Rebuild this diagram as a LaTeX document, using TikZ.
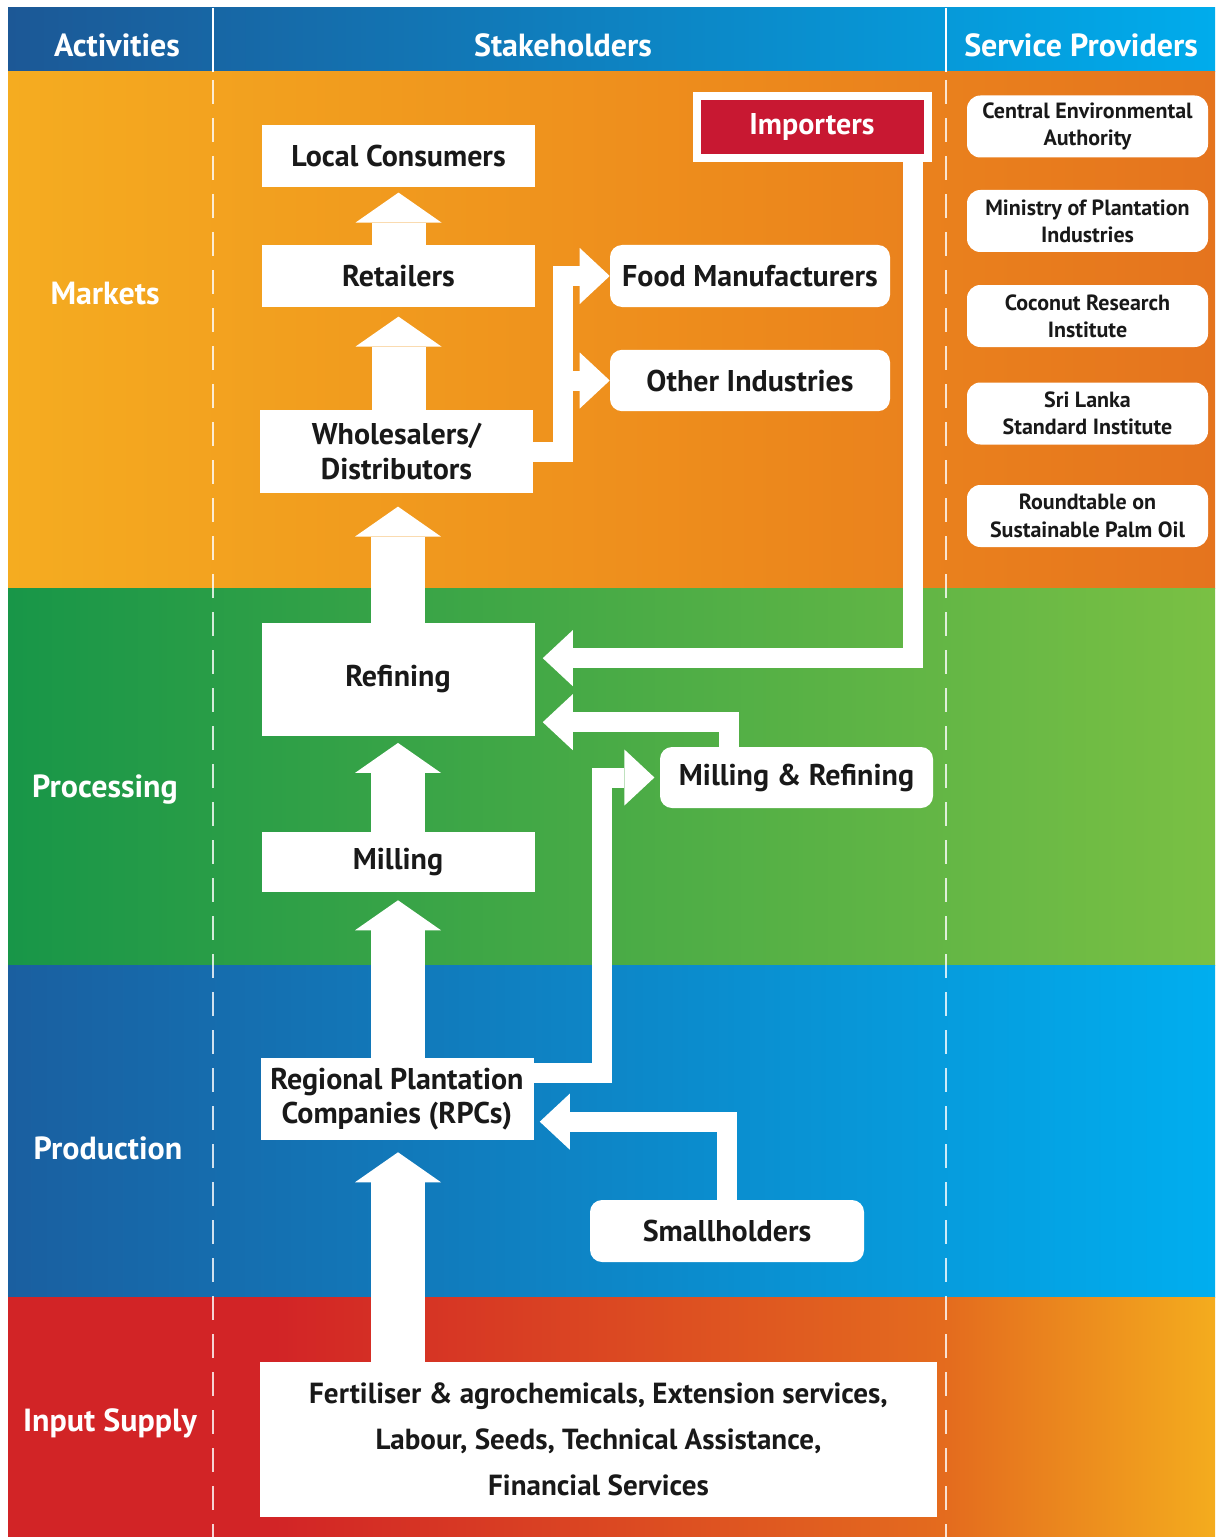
\documentclass[tikz,border=0pt]{standalone}
\usepackage{fontspec}
\setmainfont{PT Sans}
\usetikzlibrary{arrows.meta,calc}

\definecolor{txt}{RGB}{25,25,25}
\definecolor{hdL}{RGB}{28,88,150}
\definecolor{hdR}{RGB}{0,172,236}
\definecolor{mkL}{RGB}{245,172,32}
\definecolor{mkM}{RGB}{237,138,28}
\definecolor{mkR}{RGB}{229,116,30}
\definecolor{prL}{RGB}{24,150,72}
\definecolor{prR}{RGB}{122,192,68}
\definecolor{pdL}{RGB}{26,95,160}
\definecolor{pdR}{RGB}{0,174,239}
\definecolor{inL}{RGB}{210,36,38}
\definecolor{inM}{RGB}{228,108,30}
\definecolor{inR}{RGB}{244,172,30}
\definecolor{impred}{RGB}{200,24,50}

\pgfdeclarehorizontalshading{hdsh}{100bp}{color(0bp)=(hdL); color(25bp)=(hdL); color(75bp)=(hdR); color(100bp)=(hdR)}
\pgfdeclarehorizontalshading{mksh}{100bp}{color(0bp)=(mkL); color(25bp)=(mkL); color(55bp)=(mkM); color(75bp)=(mkR); color(100bp)=(mkR)}
\pgfdeclarehorizontalshading{prsh}{100bp}{color(0bp)=(prL); color(25bp)=(prL); color(75bp)=(prR); color(100bp)=(prR)}
\pgfdeclarehorizontalshading{pdsh}{100bp}{color(0bp)=(pdL); color(25bp)=(pdL); color(75bp)=(pdR); color(100bp)=(pdR)}
\pgfdeclarehorizontalshading{insh}{100bp}{color(0bp)=(inL); color(25bp)=(inL); color(36bp)=(inL); color(64bp)=(inM); color(75bp)=(inR); color(100bp)=(inR)}

\tikzset{
  sqbox/.style={fill=white, text=txt, align=center, inner sep=0pt,
    font=\fontsize{22.5}{26}\selectfont\bfseries, minimum width=204.75pt},
  rdbox/.style={sqbox, rounded corners=9pt},
  spbox/.style={fill=white, text=txt, align=center, inner sep=0pt, rounded corners=10pt,
    font=\fontsize{16.5}{20.5}\selectfont\bfseries, minimum width=180.75pt, minimum height=46.5pt},
  hdtext/.style={text=white, font=\fontsize{24}{28}\selectfont\bfseries},
  rowtext/.style={text=white, font=\fontsize{24}{28}\selectfont\bfseries},
  divider/.style={draw=white, draw opacity=0.8, line width=1.5pt, dash pattern=on 18pt off 10.5pt},
  vup/.style={draw=white, line width=40.5pt,
    -{Triangle[width=64.5pt,length=22.5pt,line width=0pt]}},
  hbar/.style={draw=white, line width=15pt, line join=miter,
    -{Triangle[width=42pt,length=22.5pt,line width=0pt]}}
}

\begin{document}
\begin{tikzpicture}[x=0.75pt,y=-0.75pt]
\useasboundingbox (0,0) rectangle (1215,1537);
\fill[white] (0,0) rectangle (1215,1537);

% bands
\shade[shading=hdsh] (8,8) rectangle (1215,72);
\shade[shading=mksh] (8,72) rectangle (1215,588);
\shade[shading=prsh] (8,588) rectangle (1215,965);
\shade[shading=pdsh] (8,965) rectangle (1215,1297);
\shade[shading=insh] (8,1297) rectangle (1215,1537);

% dividers
\draw[white, line width=1pt] (213,8) -- (213,72);
\draw[white, line width=1pt] (946,8) -- (946,72);
\draw[divider] (213,80) -- (213,1537);
\draw[divider] (946,80) -- (946,1537);

% headers
\node[hdtext] (hact) at (117,45) {Activities};
\node[hdtext] (hsta) at (563,45) {Stakeholders};
\node[hdtext] (hser) at (1081,45) {Service Providers};

% row labels
\node[rowtext] (rmk) at (105,294) {Markets};
\node[rowtext] (rpr) at (105,790) {Processing};
\node[rowtext] (rpd) at (108,1148) {Production};
\node[rowtext] (rin) at (110,1423) {Input Supply};

% stakeholder boxes
\node[sqbox, minimum height=46.5pt] (lc) at (398.5,156) {Local Consumers};
\node[sqbox, minimum height=46.5pt] (ret) at (398.5,276) {Retailers};
\node[sqbox, minimum height=62.25pt] (whs) at (396.5,451.5) {Wholesalers/\\Distributors};
\node[sqbox, minimum height=84.75pt] (ref) at (398,679.5) {Refining};
\node[sqbox, minimum height=45pt] (mil) at (398,862) {Milling};
\node[sqbox, minimum height=61.5pt, font=\fontsize{22.5}{25.5}\selectfont\bfseries] (rpc) at (397,1099) {Regional Plantation\\Companies (RPCs)};
\node[sqbox, minimum width=507.75pt, minimum height=116.25pt, font=\fontsize{21.8}{34.5}\selectfont\bfseries] (inp) at (598.5,1439.5)
  {Fertiliser \& agrochemicals, Extension services,\\Labour, Seeds, Technical Assistance,\\Financial Services};

\node[rdbox, minimum width=210pt, minimum height=46.5pt] (food) at (750,276) {Food Manufacturers};
\node[rdbox, minimum width=210pt, minimum height=46pt] (oth) at (750,380.5) {Other Industries};
\node[rdbox, minimum height=45.75pt] (mr) at (796.5,777.5) {Milling \& Refining};
\node[rdbox, minimum width=205.5pt, minimum height=46.5pt] (sh) at (727,1231) {Smallholders};

\node[fill=impred, draw=white, line width=6pt, text=white, inner sep=0pt,
      minimum width=173.25pt, minimum height=46.5pt,
      font=\fontsize{22.5}{26}\selectfont\bfseries] (imp) at (812,127) {Importers};

% service providers
\node[spbox] (sp1) at (1087.5,126.5) {Central Environmental\\Authority};
\node[spbox] (sp2) at (1087.5,221) {Ministry of Plantation\\Industries};
\node[spbox] (sp3) at (1087.5,316) {Coconut Research\\Institute};
\node[spbox] (sp4) at (1087.5,413.5) {Sri Lanka\\Standard Institute};
\node[spbox] (sp5) at (1087.5,516) {Roundtable on\\Sustainable Palm Oil};

% vertical block arrows
\draw[vup] (ret.north) -- ([yshift=-4pt]lc.south);
\draw[vup] (whs.north -| ret.north) -- ([yshift=-7pt]ret.south);
\draw[vup] (ref.north) -- ([yshift=-10pt]whs.south -| ref.north);
\draw[vup] (mil.north) -- ([yshift=-5pt]ref.south);
\draw[vup] (rpc.north -| mil.north) -- ([yshift=-6pt]mil.south);
\draw[vup] (inp.north -| mil.north) -- ([yshift=-9pt]rpc.south -| mil.north);

% bent connectors
\draw[hbar] (whs.east) -| ($(food.west)+(-47,0)$) -- (food.west);
\draw[hbar] (whs.east) -| ($(oth.west)+(-47,0)$) -- (oth.west);
\draw[hbar] ([xshift=-14pt]imp.south east) |- ([xshift=6pt,yshift=16pt]ref.east);
\draw[hbar] ([xshift=-51pt]mr.north) |- ([xshift=6pt,yshift=-32pt]ref.east);
\draw[hbar] ([yshift=19.5pt]rpc.east) -| ($(mr.west)+(-58,0)$) -- ([xshift=-4pt]mr.west);
\draw[hbar] (sh.north) |- ([xshift=4.5pt,yshift=-17pt]rpc.east);
\end{tikzpicture}
\end{document}
